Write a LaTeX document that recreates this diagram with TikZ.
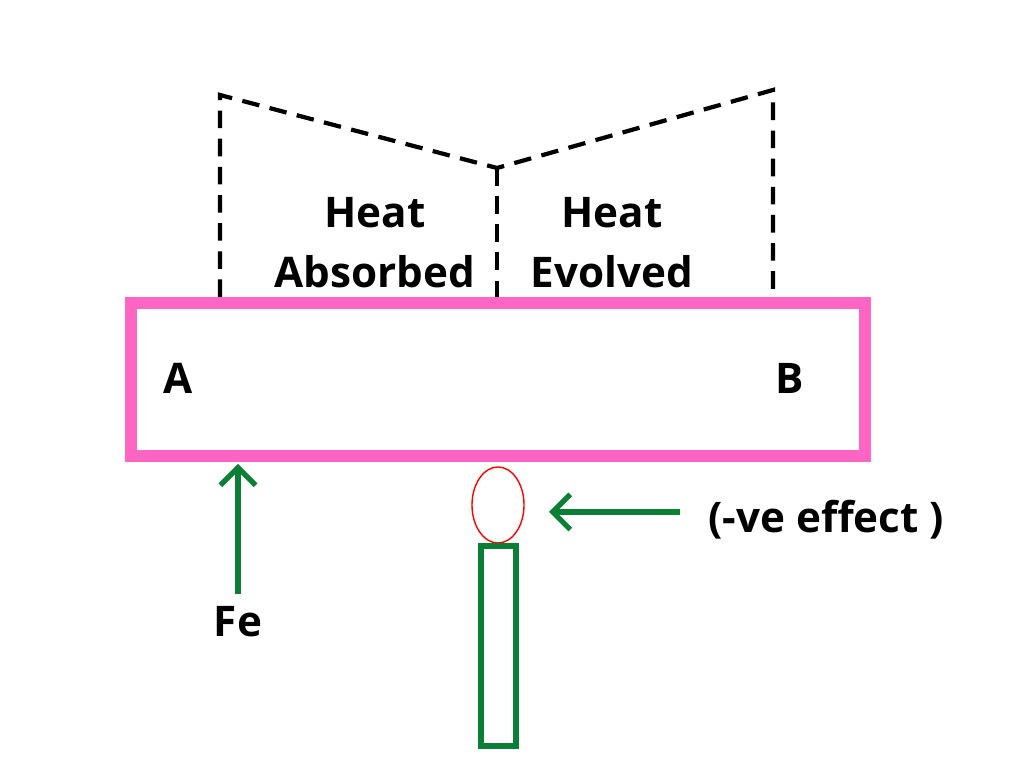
\documentclass[tikz,border=0pt]{standalone}
\usepackage{fontspec}
\setmainfont{Open Sans}
\usetikzlibrary{arrows.meta,shapes.geometric}
\definecolor{barpink}{HTML}{FF66C4}
\definecolor{leafgreen}{HTML}{0B7F35}
\tikzset{
  lbl/.style={font=\bfseries\fontsize{12}{17}\selectfont, align=center},
  cut/.style={draw=black, line width=1.2pt, dash pattern=on 5pt off 3pt},
  greenarrow/.style={draw=leafgreen, line width=1.5pt, -{Straight Barb[length=5pt,width=10pt]}}
}
\begin{document}
\begin{tikzpicture}[x=0.01cm,y=-0.01cm]
  \useasboundingbox (0,0) rectangle (1024,768);
  % the bar
  \draw[barpink, line width=3.4pt] (131,303) rectangle (865,456);
  \node[lbl] (a) at (178,378) {A};
  \node[lbl] (b) at (790,378) {B};
  % dashed outline
  \coordinate (l0) at (220,297); \coordinate (l1) at (220,95);
  \coordinate (m0) at (497,297); \coordinate (m1) at (497,168);
  \coordinate (r0) at (773,297); \coordinate (r1) at (773,90);
  \draw[cut] (l0) -- (l1) -- (m1) -- (r1) -- (r0);
  \draw[cut] (m1) -- (m0);
  \node[lbl] (absorbed) at (375,243) {Heat\\Absorbed};
  \node[lbl] (evolved) at (612,243) {Heat\\Evolved};
  % force
  \node[lbl] (fe) at (238,622) {Fe};
  \coordinate (feTip) at (238,464);
  \draw[greenarrow] (fe.north) -- (feTip);
  % candle
  \node[draw=red, ellipse, minimum width=0.52cm, minimum height=0.76cm, inner sep=0pt] (flame) at (498,505) {};
  \draw[leafgreen, line width=1.6pt] (481,546) rectangle (516,746);
  \node[lbl, anchor=west] (effect) at (696,520) {(-ve effect )};
  \coordinate (effTail) at (680,512);
  \draw[greenarrow] (effTail) -- (549,512);
\end{tikzpicture}
\end{document}
